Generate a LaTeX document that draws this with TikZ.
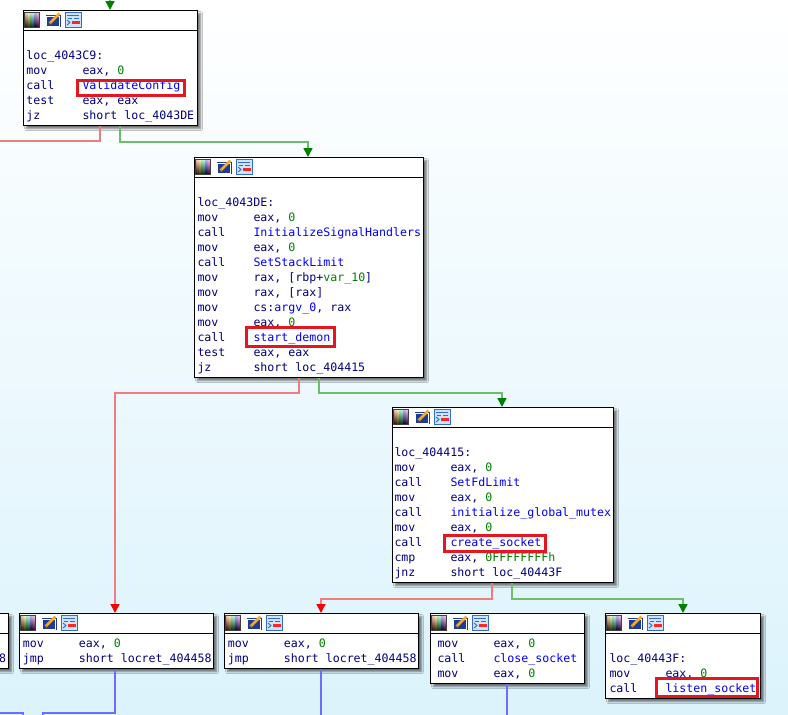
\documentclass[tikz,border=0pt]{standalone}
\usepackage{fontspec}
\newfontfamily\asmfont{DejaVu Sans Mono}
\usetikzlibrary{arrows.meta,calc,shadows.blur}

\definecolor{mnem}{RGB}{0,0,128}
\definecolor{fnc}{RGB}{0,0,255}
\definecolor{numc}{RGB}{0,128,0}
\definecolor{redln}{RGB}{240,125,125}
\definecolor{grnln}{RGB}{110,188,110}
\definecolor{bluln}{RGB}{110,110,250}
\definecolor{arrred}{RGB}{250,0,0}
\definecolor{arrgrn}{RGB}{0,128,0}
\definecolor{hlred}{RGB}{228,22,32}
\definecolor{bgbot}{RGB}{220,243,252}
\definecolor{icblue}{RGB}{30,60,150}
\definecolor{icpen}{RGB}{250,170,30}
\definecolor{icbg}{RGB}{205,228,250}
\definecolor{icbd}{RGB}{50,110,200}

\newcommand\asmnum[1]{\textcolor{numc}{#1}}
\newcommand\asmfn[1]{\textcolor{fnc}{#1}}

\tikzset{
  blk/.style={draw=black, line width=1.2pt, fill=white, inner sep=0pt, anchor=north west,
    blur shadow={shadow xshift=3pt, shadow yshift=-3pt, shadow blur radius=2pt, shadow opacity=55}},
  asm/.style={anchor=base west, inner sep=0pt, text=mnem, font=\asmfont\fontsize{11.6}{15}\selectfont},
  hlst/.style={draw=hlred, line width=3pt},
  edge/.style={line width=1.5pt},
  redl/.style={edge, draw=redln, -{Triangle[width=9pt,length=9pt,color=arrred]}},
  grnl/.style={edge, draw=grnln, -{Triangle[width=9pt,length=9pt,color=arrgrn]}},
  redp/.style={edge, draw=redln},
  blul/.style={edge, draw=bluln}
}

\newcommand\icons[1]{%
  \begin{scope}[shift={(#1.north west)}]
    \foreach \hc [count=\i from 0] in {red,orange,yellow,green,cyan,blue,violet,magenta}
      \shade[top color=\hc!25, middle color=\hc, bottom color=\hc!20!black]
        (1.5+\i*1.875,2) rectangle (1.5+\i*1.875+1.9,17);
    \draw[black!75, line width=0.6pt] (1.5,2) rectangle (16.5,17);
    \fill[icblue] (22.5,5) rectangle (37.5,17);
    \draw[white, line width=0.6pt] (23.5,6) rectangle (36.5,16);
    \draw[icpen, line width=2.6pt] (26.5,13.5) -- (36.5,3.5);
    \draw[black!70, line width=0.6pt] (25.5,15) -- (27.5,12.5);
    \fill[icbg] (42,2) rectangle (58,17);
    \draw[icbd, line width=0.8pt] (42,2) rectangle (58,17);
    \draw[icbd, line width=0.9pt] (44,5.5) -- (56,5.5) (45,8.5) -- (49,8.5) (51,8.5) -- (56,8.5);
    \fill[red!85] (49,11) rectangle (56.5,14);
    \draw[icbd, line width=0.9pt] (44,10) -- (47,12.5) -- (44,15);
  \end{scope}}

\newcommand\blk[5]{%
  \node[blk, minimum width=#4pt, minimum height=#5pt] (#1) at (#2,#3) {};
  \draw[line width=1pt] ($(#1.north west)+(0,-20pt)$) -- ($(#1.north east)+(0,-20pt)$);
  \icons{#1}}

\newcommand\ins[5]{%
  \node[asm] (#1m) at (#2,#3) {#4};
  \node[asm] (#1o) at (#2+56,#3) {#5};}

\newcommand\hlbox[5]{%
  \draw[hlst] ($(#1.base west)+(-#2pt,#3pt)$) rectangle ($(#1.base east)+(#4pt,-#5pt)$);}

\begin{document}
\begin{tikzpicture}[x=1pt,y=-1pt]
\useasboundingbox (0,0) rectangle (788,715);
\clip (0,0) rectangle (788,715);
\shade[top color=white, bottom color=bgbot] (0,0) rectangle (788,715);

% blocks
\blk{b1}{23}{10}{174}{115}
\blk{b2}{194}{157}{229}{220}
\blk{b3}{392}{407}{221}{175}
\blk{bA}{-186}{613}{194}{55}
\blk{bB}{19}{613}{194}{55}
\blk{bC}{224}{613}{194}{55}
\blk{bD}{430}{613}{154}{70}
\blk{bE}{605}{613}{155}{85}

% block 1
\node[asm] (b1lab) at (26.3,59.5) {loc\_4043C9:};
\ins{b1a}{26.3}{74.5}{mov}{eax, \asmnum{0}}
\ins{b1b}{26.3}{89.5}{call}{\asmfn{ValidateConfig}}
\ins{b1c}{26.3}{104.5}{test}{eax, eax}
\ins{b1d}{26.3}{119.5}{jz}{short loc\_4043DE}
\hlbox{b1bo}{5}{9.3}{3.8}{5.7}

% block 2
\node[asm] (b2lab) at (197.3,206.5) {loc\_4043DE:};
\ins{b2a}{197.3}{221.5}{mov}{eax, \asmnum{0}}
\ins{b2b}{197.3}{236.5}{call}{\asmfn{InitializeSignalHandlers}}
\ins{b2c}{197.3}{251.5}{mov}{eax, \asmnum{0}}
\ins{b2d}{197.3}{266.5}{call}{\asmfn{SetStackLimit}}
\ins{b2e}{197.3}{281.5}{mov}{rax, [rbp+\asmnum{var\_10}]}
\ins{b2f}{197.3}{296.5}{mov}{rax, [rax]}
\ins{b2g}{197.3}{311.5}{mov}{cs:\asmfn{argv\_0}, rax}
\ins{b2h}{197.3}{326.5}{mov}{eax, \asmnum{0}}
\ins{b2i}{197.3}{341.5}{call}{\asmfn{start\_demon}}
\ins{b2j}{197.3}{356.5}{test}{eax, eax}
\ins{b2k}{197.3}{371.5}{jz}{short loc\_404415}
\hlbox{b2io}{6.8}{14.4}{4.2}{5}

% block 3
\node[asm] (b3lab) at (394.3,456.5) {loc\_404415:};
\ins{b3a}{394.3}{471.5}{mov}{eax, \asmnum{0}}
\ins{b3b}{394.3}{486.5}{call}{\asmfn{SetFdLimit}}
\ins{b3c}{394.3}{501.5}{mov}{eax, \asmnum{0}}
\ins{b3d}{394.3}{516.5}{call}{\asmfn{initialize\_global\_mutex}}
\ins{b3e}{394.3}{531.5}{mov}{eax, \asmnum{0}}
\ins{b3f}{394.3}{546.5}{call}{\asmfn{create\_socket}}
\ins{b3g}{394.3}{561.5}{cmp}{eax, \asmnum{0FFFFFFFFh}}
\ins{b3h}{394.3}{576.5}{jnz}{short loc\_40443F}
\hlbox{b3fo}{5.5}{11.3}{3.9}{5}

% bottom blocks
\ins{bAa}{-182.7}{647.5}{mov}{eax, \asmnum{0}}
\ins{bAb}{-182.7}{662.5}{jmp}{short locret\_404458}
\ins{bBa}{22.7}{647.5}{mov}{eax, \asmnum{0}}
\ins{bBb}{22.7}{662.5}{jmp}{short locret\_404458}
\ins{bCa}{227.7}{647.5}{mov}{eax, \asmnum{0}}
\ins{bCb}{227.7}{662.5}{jmp}{short locret\_404458}
\ins{bDa}{437.3}{647.5}{mov}{eax, \asmnum{0}}
\ins{bDb}{437.3}{662.5}{call}{\asmfn{close\_socket}}
\ins{bDc}{437.3}{677.5}{mov}{eax, \asmnum{0}}
\node[asm] (bElab) at (609.3,662.5) {loc\_40443F:};
\ins{bEa}{609.3}{677.5}{mov}{eax, \asmnum{0}}
\ins{bEb}{609.3}{692.5}{call}{\asmfn{listen\_socket}}
\hlbox{bEbo}{8.8}{13.6}{1.5}{4}

% free ends
\coordinate (topin) at (110,-5);
\coordinate (offL) at (-10,141);
\coordinate (bl1) at (43,713);
\coordinate (bl2) at (43,725);
\coordinate (bl3) at (-10,713);
\coordinate (bl4) at (23,713);
\coordinate (bl5) at (23,725);

% connectors
\draw[grnl] (topin) -- (topin |- b1.north);
\draw[redp] ($(b1.south west)+(77pt,0)$) |- (offL);
\draw[grnl] ($(b1.south west)+(97pt,0)$) -- ++(0,16) -| ($(b2.north west)+(114pt,0)$);
\draw[redl] ($(b2.south west)+(105pt,0)$) -- ++(0,15) -| ($(bB.north west)+(96pt,0)$);
\draw[grnl] ($(b2.south west)+(125pt,0)$) -- ++(0,15) -| ($(b3.north west)+(110pt,0)$);
\draw[redl] ($(b3.south west)+(100pt,0)$) -- ++(0,16) -| ($(bC.north west)+(97pt,0)$);
\draw[grnl] ($(b3.south west)+(120pt,0)$) -- ++(0,16) -| ($(bE.north west)+(78pt,0)$);
\draw[blul] ($(bB.south west)+(96pt,0)$) |- (bl1) -- (bl2);
\draw[blul] (bl3) -- (bl4) -- (bl5);
\draw[blul] ($(bC.south west)+(97pt,0)$) -- ++(0,60);
\draw[blul] ($(bD.south west)+(77pt,0)$) -- ++(0,50);
\end{tikzpicture}
\end{document}
